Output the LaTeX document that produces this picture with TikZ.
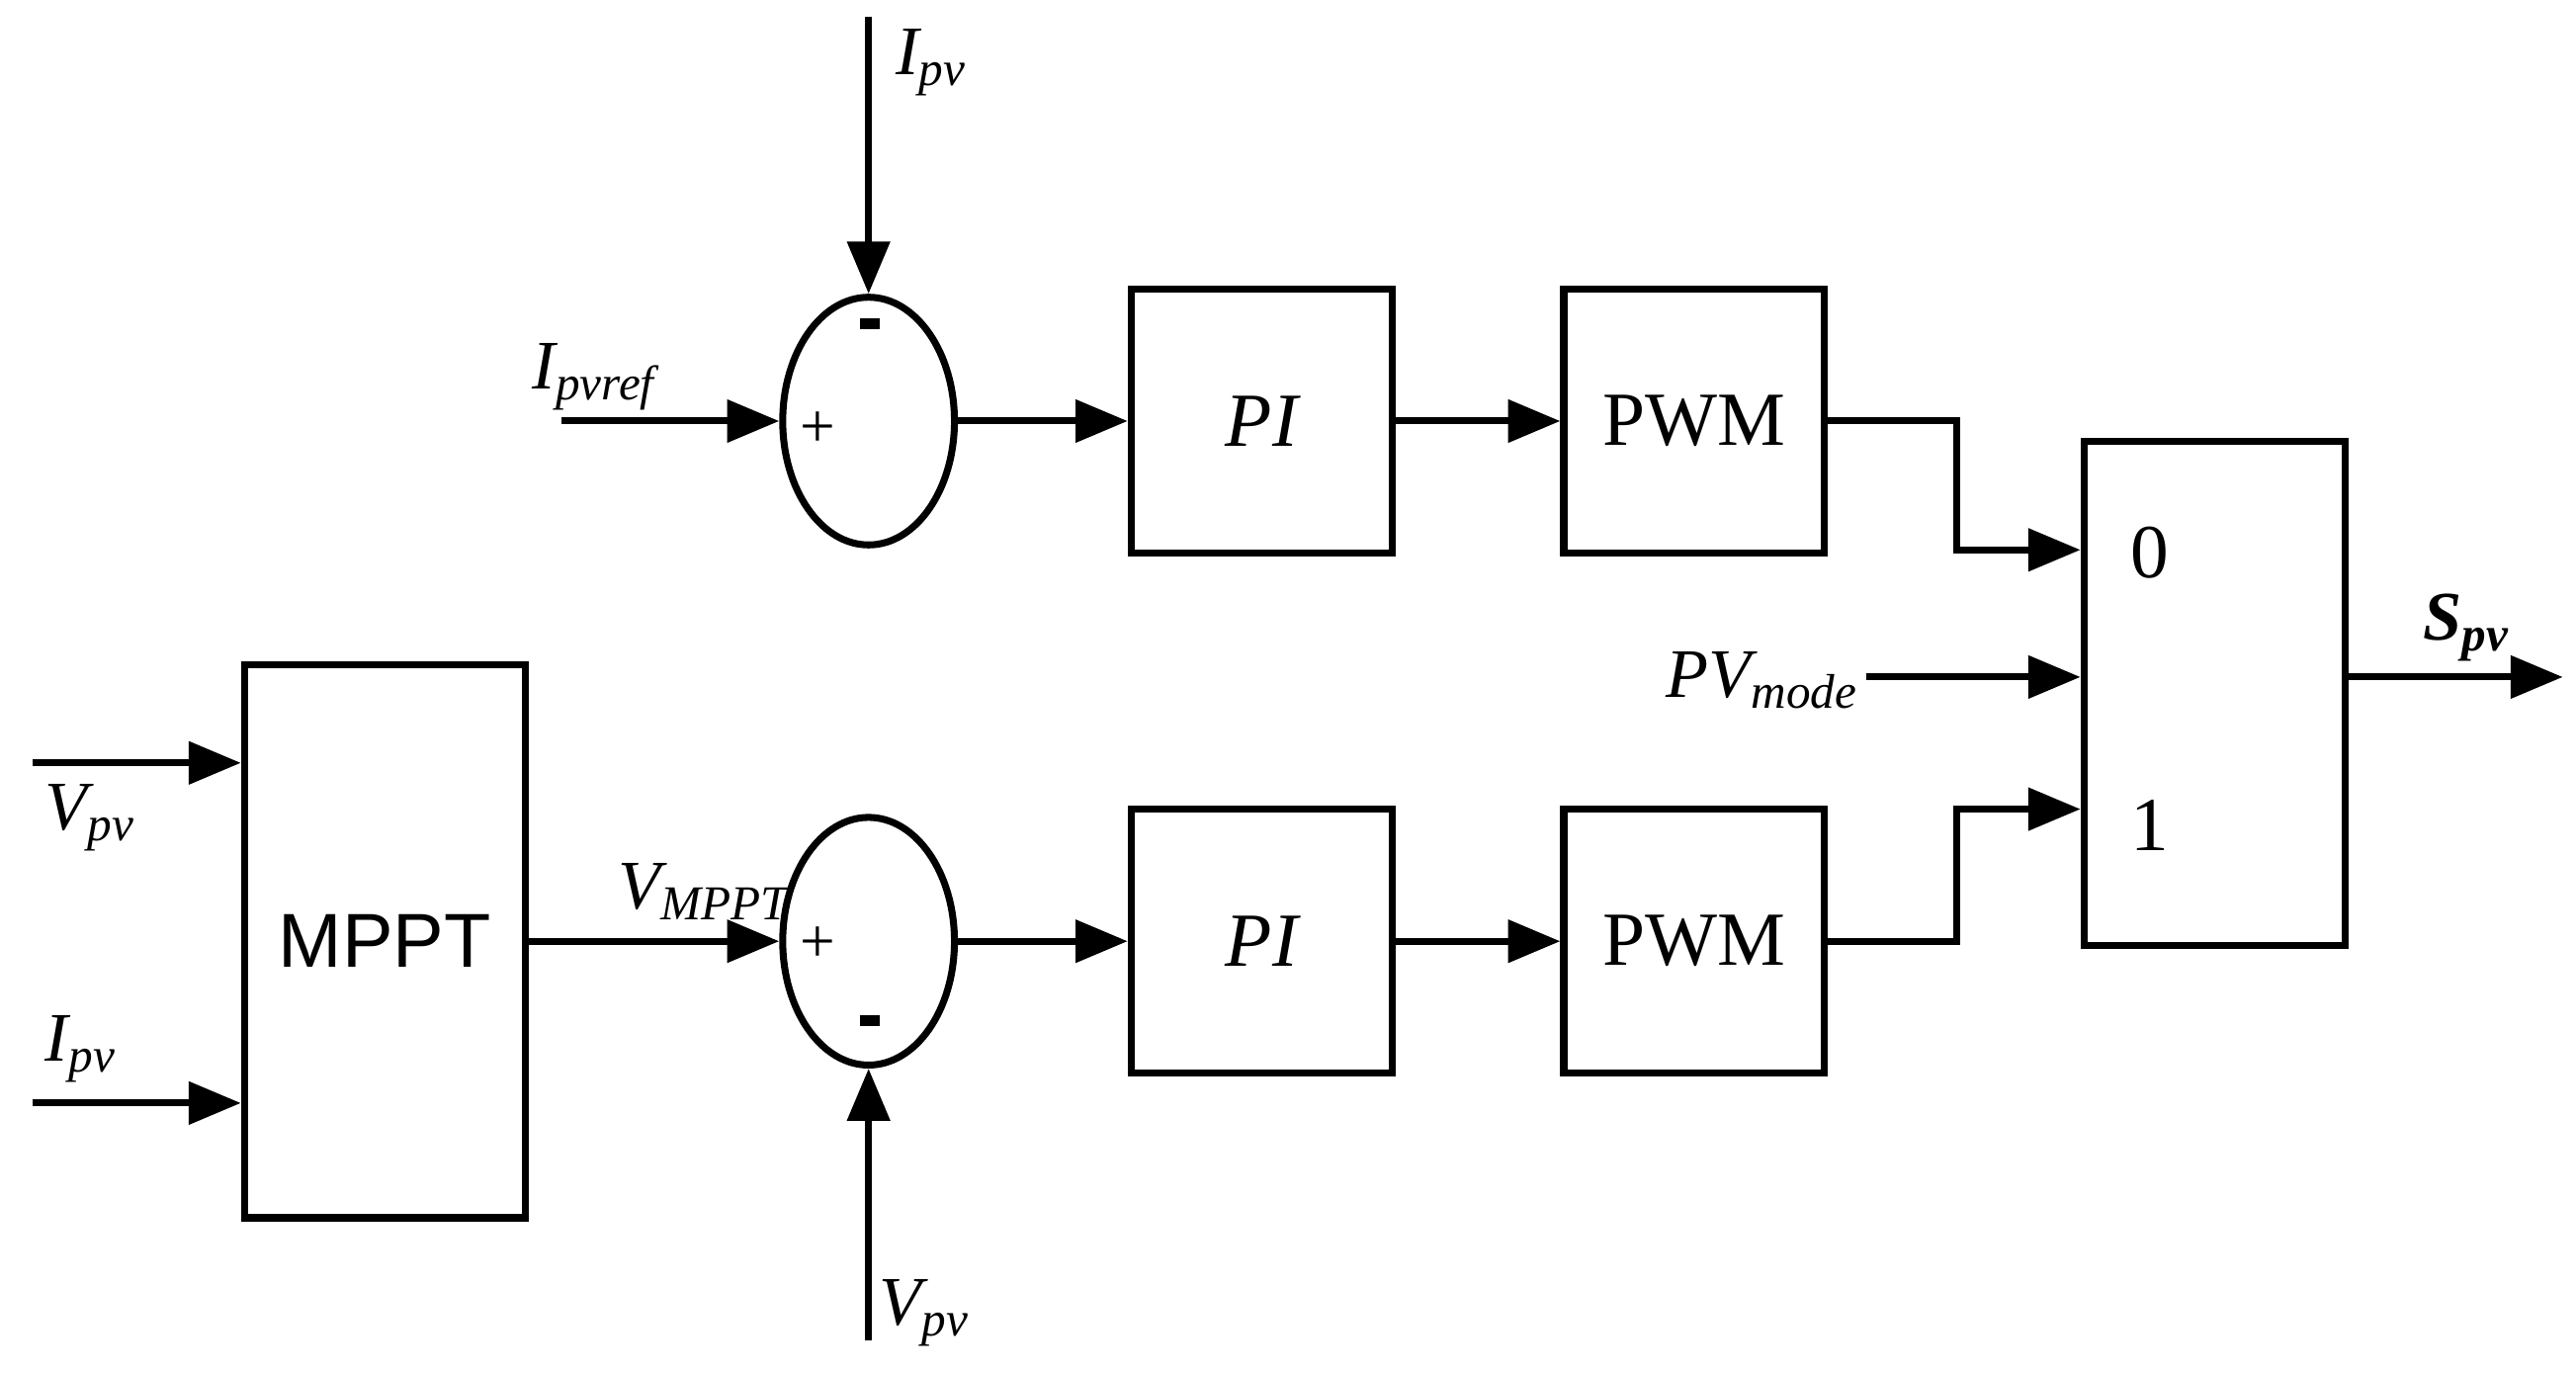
\documentclass[tikz,border=0pt]{standalone}
\usepackage{fontspec}
\setmainfont{Liberation Serif}
\newfontfamily\blocksans{Liberation Sans}
\usetikzlibrary{arrows.meta, positioning, calc, shapes.geometric}

\tikzset{
  blk/.style={draw, line width=2pt, minimum width=158*0.0167cm, minimum height=160*0.0167cm, inner sep=0pt},
  summ/.style={draw, ellipse, line width=2pt, minimum width=104*0.0167cm, minimum height=150*0.0167cm, inner sep=0pt},
  sig/.style={line width=2pt, -{Triangle[length=15pt, width=12pt]}},
  lbl/.style={font=\fontsize{20}{24}\selectfont\itshape, inner sep=1pt},
  big/.style={font=\fontsize{22}{26}\selectfont}
}

\begin{document}
\begin{tikzpicture}[x=0.0167cm, y=-0.0167cm]
  \useasboundingbox (0,0) rectangle (1560,832);

  % Summing junctions
  \node[summ] (sumtop) at (526,255) {};
  \node[summ] (sumbot) at (526,570) {};

  % Blocks
  \node[blk, big] (pitop) at (764,255) {\itshape PI};
  \node[blk, big] (pwmtop) at (1026,255) {PWM};
  \node[blk, big] (pibot) at (764,570) {\itshape PI};
  \node[blk, big] (pwmbot) at (1026,570) {PWM};
  \node[blk, minimum height=305*0.0167cm] (sw) at (1341,420) {};
  \node[blk, minimum width=170*0.0167cm, minimum height=335*0.0167cm, font=\blocksans\fontsize{22}{26}\selectfont] (mppt) at (233,570) {MPPT};

  % Signs
  \node[font=\fontsize{18}{22}\selectfont] at (495,260) {+};
  \node[font=\fontsize{18}{22}\selectfont] at (495,572) {+};
  \draw[line width=3pt] (521,196) -- (533,196);
  \draw[line width=3pt] (521,618) -- (533,618);

  % Switch inputs
  \node[font=\fontsize{22}{26}\selectfont, anchor=west] at (1283,335) {0};
  \node[font=\fontsize{22}{26}\selectfont, anchor=west] at (1283,500) {1};

  % Free ends
  \coordinate (ipvtop) at (526,10);
  \coordinate (ipvref) at (340,255);
  \coordinate (vpvbot) at (526,812);
  \coordinate (vpvin) at (20,462);
  \coordinate (ipvin) at (20,668);
  \coordinate (pvmode) at (1130,410);
  \coordinate (spv) at (1552,410);

  % Top path
  \draw[sig] (ipvtop) -- (sumtop.north);
  \draw[sig] (ipvref) -- (sumtop.west);
  \draw[sig] (sumtop.east) -- (pitop.west);
  \draw[sig] (pitop.east) -- (pwmtop.west);
  \draw[sig] (pwmtop.east) -- (1185,255) -- (1185,333) -- (sw.west |- 0,333);

  % Bottom path
  \draw[sig] (mppt.east) -- (sumbot.west);
  \draw[sig] (vpvbot) -- (sumbot.south);
  \draw[sig] (sumbot.east) -- (pibot.west);
  \draw[sig] (pibot.east) -- (pwmbot.west);
  \draw[sig] (pwmbot.east) -- (1185,570) -- (1185,490) -- (sw.west |- 0,490);

  % MPPT inputs
  \draw[sig] (vpvin) -- (mppt.west |- vpvin);
  \draw[sig] (ipvin) -- (mppt.west |- ipvin);

  % Mode and output
  \draw[sig] (pvmode) -- (sw.west |- pvmode);
  \draw[sig] (sw.east |- spv) -- (spv);

  % Labels
  \node[lbl, anchor=west] at (540,38) {I\textsubscript{pv}};
  \node[lbl, anchor=west] at (320,228) {I\textsubscript{pvref}};
  \node[lbl, anchor=west] at (372,540) {V\textsubscript{MPPT}};
  \node[lbl, anchor=west] at (530,795) {V\textsubscript{pv}};
  \node[lbl, anchor=west] at (25,495) {V\textsubscript{pv}};
  \node[lbl, anchor=west] at (25,635) {I\textsubscript{pv}};
  \node[lbl, anchor=east] at (1128,412) {PV\textsubscript{mode}};
  \node[lbl, anchor=west, font=\fontsize{20}{24}\selectfont\bfseries\itshape] at (1465,380) {S\textsubscript{pv}};
\end{tikzpicture}
\end{document}
